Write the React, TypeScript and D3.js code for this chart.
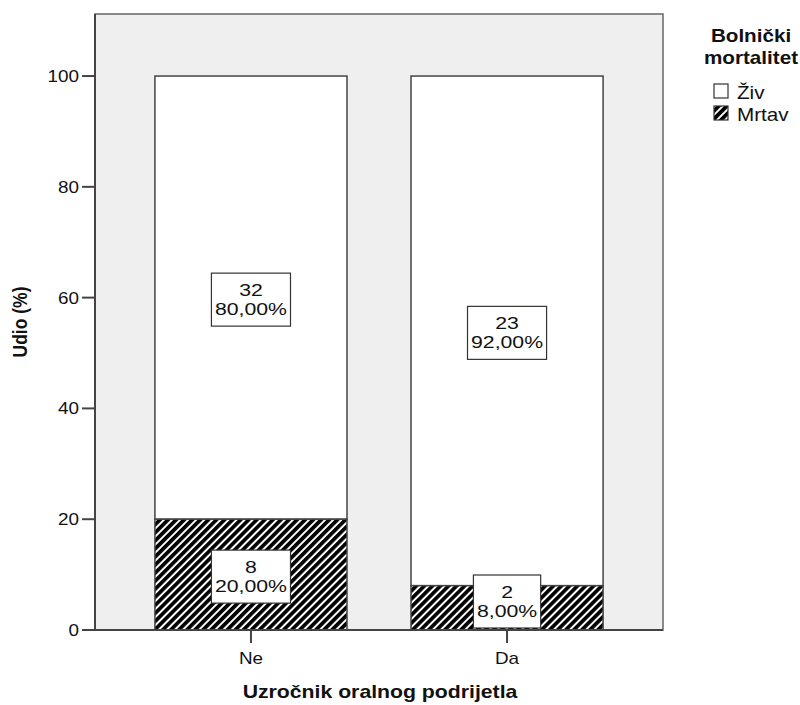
import React from "react";
import * as d3 from "d3";

const categories = ["Ne", "Da"];
const zivCounts = [32, 23];
const mrtavCounts = [8, 2];
const zivPct = [80, 92];
const mrtavPct = [20, 8];
const yTicks = [0, 20, 40, 60, 80, 100];
const legendTitle = ["Bolnički", "mortalitet"];
const seriesNames = ["Živ", "Mrtav"];
const xTitle = "Uzročnik oralnog podrijetla";
const yTitle = "Udio (%)";

const W = 800;
const H = 705;
const SX = 1.18;
const FONT = "'Liberation Sans', Arial, sans-serif";

const fmtPct = (v: number) => v.toFixed(2).replace(".", ",") + "%";

function measure(text: string, size: number, bold = false): number {
  if (typeof document === "undefined") return text.length * size * 0.55;
  const c = document.createElement("canvas");
  const ctx = c.getContext("2d");
  if (!ctx) return text.length * size * 0.55;
  ctx.font = `${bold ? "bold " : ""}${size}px ${FONT}`;
  return ctx.measureText(text).width;
}

function T(props: {
  x: number;
  y: number;
  children: React.ReactNode;
  size: number;
  anchor?: "start" | "middle" | "end";
  bold?: boolean;
  rotate?: number;
  sx?: number;
}) {
  const { x, y, children, size, anchor = "start", bold = false, rotate = 0, sx = SX } = props;
  return (
    <text
      transform={`translate(${x},${y}) scale(${sx},1)${rotate ? ` rotate(${rotate})` : ""}`}
      fontSize={size}
      fontFamily={FONT}
      fontWeight={bold ? "bold" : "normal"}
      textAnchor={anchor}
      fill="#111"
    >
      {children}
    </text>
  );
}

export default function App() {
  const left = 95;
  const right = 663;
  const top = 14;
  const bottom = 630;

  const x = d3
    .scaleBand<string>()
    .domain(categories)
    .range([left, right])
    .paddingInner(0.25)
    .paddingOuter(0.234);
  const y = d3.scaleLinear().domain([0, 111.2]).range([bottom, top]);

  const labelSize = 17;
  const labelSX = 1.25;
  const labels: { cx: number; cy: number; lines: string[] }[] = [];
  categories.forEach((c, i) => {
    const bx = (x(c) as number) + x.bandwidth() / 2;
    const mTop = y(mrtavPct[i]);
    const zTop = y(mrtavPct[i] + zivPct[i]);
    labels.push({ cx: bx, cy: (zTop + mTop) / 2, lines: [String(zivCounts[i]), fmtPct(zivPct[i])] });
    labels.push({ cx: bx, cy: (mTop + y(0)) / 2, lines: [String(mrtavCounts[i]), fmtPct(mrtavPct[i])] });
  });

  return (
    <svg width={W} height={H} style={{ position: "absolute", left: 0, top: 0 }}>
      <defs>
        <pattern id="hatch" patternUnits="userSpaceOnUse" width={5.7} height={5.7} patternTransform="rotate(45)">
          <rect x={0} y={0} width={5.7} height={5.7} fill="#fff" />
          <rect x={0} y={0} width={3.7} height={5.7} fill="#000" />
        </pattern>
      </defs>
      <rect x={0} y={0} width={W} height={H} fill="#fff" />
      {/* plot frame */}
      <rect x={left} y={top} width={right - left} height={bottom - top} fill="#efefef" stroke="#666" strokeWidth={1.5} />
      {/* bars */}
      {categories.map((c, i) => (
        <g key={c}>
          <rect
            x={x(c)}
            y={y(mrtavPct[i] + zivPct[i])}
            width={x.bandwidth()}
            height={y(mrtavPct[i]) - y(mrtavPct[i] + zivPct[i])}
            fill="#fff"
            stroke="#444"
            strokeWidth={1.5}
          />
          <rect
            x={x(c)}
            y={y(mrtavPct[i])}
            width={x.bandwidth()}
            height={y(0) - y(mrtavPct[i])}
            fill="url(#hatch)"
            stroke="#444"
            strokeWidth={1.5}
          />
        </g>
      ))}
      {/* labels */}
      {labels.map((l, k) => {
        const tw = Math.max(...l.lines.map((s) => measure(s, labelSize))) * labelSX;
        const bw = tw + 7;
        const bh = 53;
        let by = l.cy - bh / 2 + 2;
        if (by + bh > y(0) - 2) by = y(0) - 2 - bh;
        return (
          <g key={k}>
            <rect x={l.cx - bw / 2} y={by} width={bw} height={bh} fill="#fff" stroke="#333" strokeWidth={1.2} />
            <T x={l.cx} y={by + 23} size={labelSize} sx={labelSX} anchor="middle">
              {l.lines[0]}
            </T>
            <T x={l.cx} y={by + 42} size={labelSize} sx={labelSX} anchor="middle">
              {l.lines[1]}
            </T>
          </g>
        );
      })}
      {/* y axis */}
      <line x1={left} x2={left} y1={top} y2={bottom} stroke="#444" strokeWidth={2} />
      {yTicks.map((t) => (
        <g key={t}>
          <line x1={82} x2={left} y1={y(t)} y2={y(t)} stroke="#444" strokeWidth={2} />
          <T x={79} y={y(t) + 6} size={16} anchor="end">
            {t}
          </T>
        </g>
      ))}
      {/* x axis */}
      <line x1={left} x2={right} y1={bottom} y2={bottom} stroke="#444" strokeWidth={2} />
      {categories.map((c) => {
        const cx = (x(c) as number) + x.bandwidth() / 2;
        return (
          <g key={c}>
            <line x1={cx} x2={cx} y1={bottom} y2={643} stroke="#444" strokeWidth={2} />
            <T x={cx} y={664} size={16} anchor="middle">
              {c}
            </T>
          </g>
        );
      })}
      <T x={(left + right) / 2 + 1} y={698} size={18} anchor="middle" bold>
        {xTitle}
      </T>
      <T x={27} y={322} size={17.5} anchor="middle" bold rotate={-90}>
        {yTitle}
      </T>
      {/* legend */}
      <T x={751} y={42} size={17.5} anchor="middle" bold>
        {legendTitle[0]}
      </T>
      <T x={751} y={64} size={17.5} anchor="middle" bold>
        {legendTitle[1]}
      </T>
      {seriesNames.map((s, i) => (
        <g key={s}>
          <rect
            x={714}
            y={84 + i * 22}
            width={14}
            height={14}
            fill={i === 0 ? "#fff" : "url(#hatch)"}
            stroke="#333"
            strokeWidth={1.2}
          />
          <T x={737} y={99 + i * 22} size={17.5}>
            {s}
          </T>
        </g>
      ))}
    </svg>
  );
}
